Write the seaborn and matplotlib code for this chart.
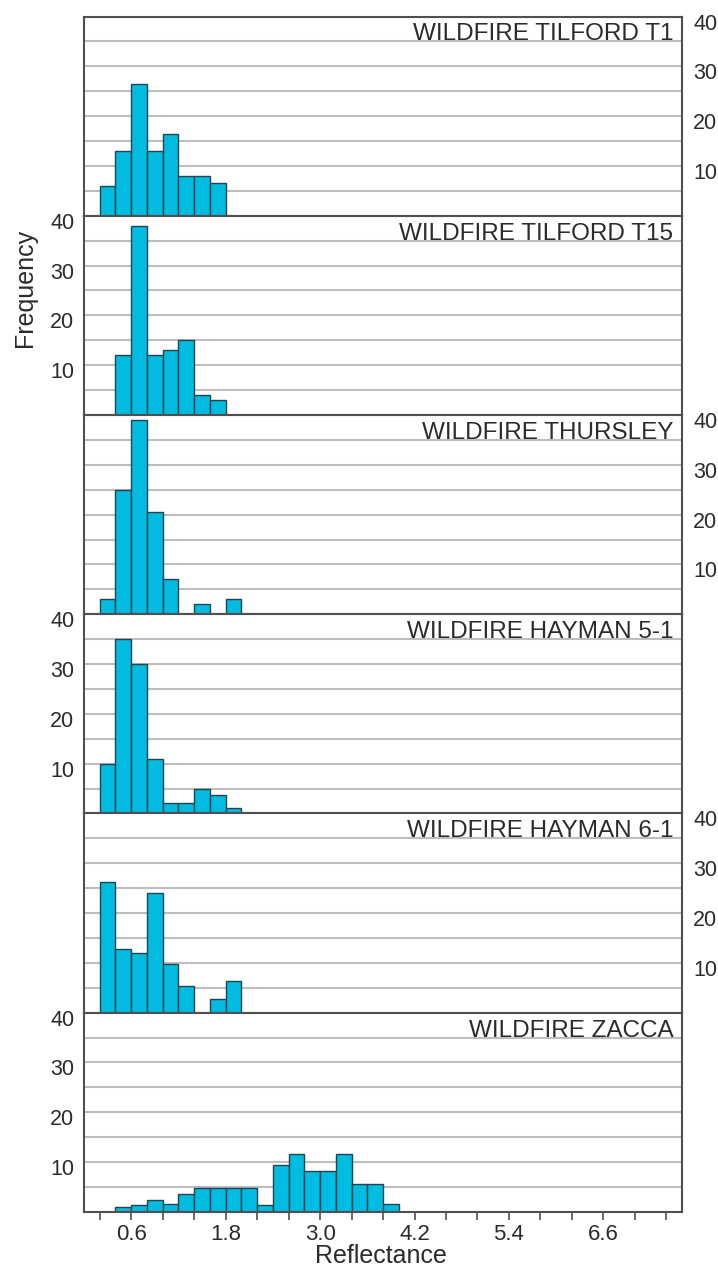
import numpy as np
import pandas as pd
import matplotlib
matplotlib.use("Agg")
import matplotlib.pyplot as plt
import matplotlib.transforms as mtransforms
import seaborn as sns

# ---------------- data ----------------
panel_titles = ["WILDFIRE TILFORD T1", "WILDFIRE TILFORD T15", "WILDFIRE THURSLEY",
                "WILDFIRE HAYMAN 5-1", "WILDFIRE HAYMAN 6-1", "WILDFIRE ZACCA"]
bin_width = 0.2
first_bin = [0.2, 0.4, 0.2, 0.2, 0.2, 0.4]

tilford_t1 = [6, 13, 26.5, 13, 16.5, 8, 8, 6.5]
tilford_t15 = [12, 38, 12, 13, 15, 4, 3]
thursley = [3, 25, 39, 20.5, 7, 0, 2, 0, 3]
hayman_5_1 = [10, 35, 30, 11, 2, 2, 5, 3.7, 1]
hayman_6_1 = [26.3, 12.7, 12, 24.1, 9.8, 5.3, 0, 2.7, 6.3]
zacca = [0.9, 1.3, 2.3, 1.5, 3.5, 4.8, 4.8, 4.8, 4.8, 1.3, 9.5, 11.7, 8.3, 8.3, 11.7, 5.6, 5.6, 1.5]
panel_counts = [tilford_t1, tilford_t15, thursley, hayman_5_1, hayman_6_1, zacca]

xtick_positions = [0.2, 0.6, 1.0, 1.4, 1.8, 2.2, 2.6, 3.0, 3.4, 3.8,
                   4.2, 4.6, 5.0, 5.4, 5.8, 6.2, 6.6, 7.0, 7.4]
xtick_labels = ["", "0.6", "", "", "1.8", "", "", "3.0", "", "",
                "4.2", "", "", "5.4", "", "", "6.6", "", ""]
ytick_positions = [10, 20, 30, 40]
ytick_labels = ["10", "20", "30", "40"]
ygrid_minor = [5, 15, 25, 35]
label_side = ["right", "left", "right", "left", "right", "left"]

# ---------------- style ----------------
sns.set_theme(style="white")
plt.rcParams["font.family"] = ["Liberation Sans", "DejaVu Sans"]

BAR = "#00BCE0"
EDGE = "#23434f"
GRID = "#bdbdbd"
SPINE = "#505050"
TXT = "#2b2b2b"

fig, axes = plt.subplots(6, 1, figsize=(7.18, 12.73), dpi=100, sharex=True)
fig.subplots_adjust(left=0.117, right=0.950, top=0.987, bottom=0.048, hspace=0)

for i, ax in enumerate(axes):
    counts = panel_counts[i]
    start = first_bin[i]
    n = len(counts)
    centers = [start + bin_width * (k + 0.5) for k in range(n)]
    df = pd.DataFrame({"reflectance": centers, "count": counts})
    sns.histplot(data=df, x="reflectance", weights="count", binwidth=bin_width,
                 binrange=(start, start + bin_width * n), ax=ax, color=BAR,
                 edgecolor=EDGE, linewidth=1.0, alpha=1.0, legend=False)
    ax.set_xlim(0, 7.6)
    ax.set_ylim(0, 40)
    ax.set_xlabel("")
    ax.set_ylabel("")

    ax.set_yticks(ytick_positions)
    ax.set_yticks(ygrid_minor, minor=True)
    ax.set_yticklabels(ytick_labels)
    ax.grid(axis="y", which="both", color=GRID, linewidth=1.5)
    ax.grid(axis="x", visible=False)
    ax.set_axisbelow(True)
    if label_side[i] == "right":
        ax.yaxis.tick_right()
        ax.tick_params(axis="y", which="both", length=0, pad=8,
                       labelsize=15.5, labelcolor=TXT, labelright=True, labelleft=False)
    else:
        ax.yaxis.tick_left()
        ax.tick_params(axis="y", which="both", length=0, pad=7,
                       labelsize=15.5, labelcolor=TXT, labelleft=True, labelright=False)

    for sp in ax.spines.values():
        sp.set_color(SPINE)
        sp.set_linewidth(1.5)

    ax.text(0.985, 0.91, panel_titles[i], transform=ax.transAxes, ha="right",
            va="center", fontsize=17.5, color=TXT)

axes[-1].set_xticks(xtick_positions)
axes[-1].set_xticklabels(xtick_labels)
for ax in axes[:-1]:
    ax.tick_params(axis="x", length=0, labelbottom=False)
axes[-1].tick_params(axis="x", length=6, width=1.2, color=SPINE, direction="out",
                     pad=2.5, labelsize=16, labelcolor=TXT, bottom=True)

# shift y tick labels slightly downward, as in the reference
offset = mtransforms.ScaledTranslation(0, -5 / 100, fig.dpi_scale_trans)
for ax in axes:
    for tk in ax.yaxis.get_major_ticks():
        tk.label1.set_transform(tk.label1.get_transform() + offset)
        tk.label2.set_transform(tk.label2.get_transform() + offset)

fig.text(25 / 718, 1 - 288 / 1273, "Frequency", rotation=90, ha="center",
         va="center", fontsize=18, color=TXT)
fig.text(381 / 718, 1 - 1256 / 1273, "Reflectance", ha="center", va="center",
         fontsize=18, color=TXT)

fig.savefig("out.png", dpi=100)
